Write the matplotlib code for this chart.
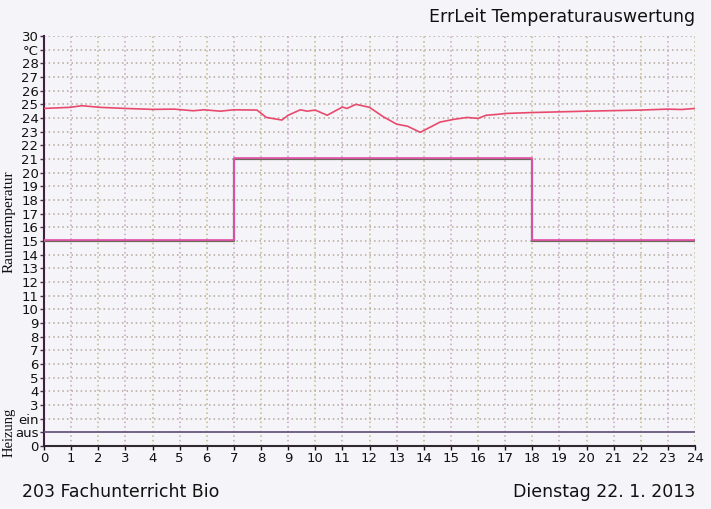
import matplotlib
matplotlib.use("Agg")
import matplotlib.pyplot as plt
import matplotlib.transforms as mtransforms
import numpy as np

# Data
temp_hours = [0, 0.96, 1.4, 2.06, 3.0, 4.0, 4.8, 5.5, 5.9, 6.5, 7.0, 7.85, 8.2, 8.77, 9.0,
              9.45, 9.7, 10.0, 10.44, 11.0, 11.17, 11.5, 12.0, 12.5, 13.0, 13.4, 13.87,
              14.6, 15.1, 15.6, 16.0, 16.3, 16.8, 17.0, 18.0, 20.0, 22.0, 23.0, 23.5, 24.0]
temp_values = [24.7, 24.78, 24.9, 24.78, 24.7, 24.63, 24.65, 24.53, 24.6, 24.5, 24.6, 24.58,
               24.04, 23.85, 24.2, 24.6, 24.5, 24.58, 24.2, 24.8, 24.7, 25.0, 24.78, 24.1,
               23.55, 23.4, 22.95, 23.7, 23.9, 24.04, 23.97, 24.2, 24.28, 24.33, 24.4, 24.5,
               24.58, 24.65, 24.62, 24.7]
setpoint_hours = [0, 7, 7, 18, 18, 24]
setpoint_values = [15, 15, 21, 21, 15, 15]
heating_hours = [0, 24]
heating_values = [1, 1]

x_ticks = list(range(0, 25))
y_ticks = list(range(0, 31))
y_labels = ["0", "aus", "ein"] + [str(i) for i in range(3, 29)] + ["°C", "30"]

bg = "#f5f4f8"
fig = plt.figure(figsize=(7.11, 5.09), dpi=100, facecolor=bg)
ax = fig.add_axes([44/711, 63/509, (695-44)/711, (446-36)/509], facecolor=bg)

ax.set_xlim(0, 24)
ax.set_ylim(0, 30)

# grid
for h in y_ticks[1:]:
    ax.axhline(h, color="#b4a89c", lw=1.1, ls=(0, (1, 2)), zorder=1)
for i, h in enumerate(x_ticks[1:], start=1):
    c = "#c0b888" if i % 2 == 0 else "#c8a0c8"
    ax.axvline(h, color=c, lw=1.1, ls=(0, (1, 2)), zorder=1)

# lines
ax.plot(heating_hours, heating_values, color="#6a5a80", lw=1.3, zorder=3)
ax.plot(setpoint_hours, setpoint_values, color="#6e6a58", lw=1.6, zorder=3)
off = mtransforms.offset_copy(ax.transData, fig=fig, x=0, y=0.7, units="points")
ax.plot(setpoint_hours, setpoint_values, color="#e850b0", lw=1.2, zorder=4, transform=off)
ax.plot(temp_hours, temp_values, color="#e84a6e", lw=1.2, zorder=5)

ax.set_xticks(x_ticks)
ax.set_yticks(y_ticks)
ax.set_yticklabels(y_labels)
ax.tick_params(axis="both", labelsize=9.5, length=3, width=1, pad=1, colors="#111111")
ax.tick_params(axis="y", color="#503050")
for s in ["top", "right"]:
    ax.spines[s].set_visible(False)
ax.spines["left"].set_color("#402040")
ax.spines["left"].set_linewidth(1.5)
ax.spines["bottom"].set_color("#302830")
ax.spines["bottom"].set_linewidth(1.5)

fig.text(9/711, 1 - 222/509, "Raumtemperatur", rotation=90, ha="center", va="center",
         fontsize=11, family="Liberation Serif", color="#111111")
fig.text(9/711, 1 - 432/509, "Heizung", rotation=90, ha="center", va="center",
         fontsize=10.5, family="Liberation Serif", color="#111111")

fig.text(695/711, 1 - 17/509, "ErrLeit Temperaturauswertung", ha="right", va="center",
         fontsize=12.5, color="#111111")
fig.text(22/711, 1 - 492/509, "203 Fachunterricht Bio", ha="left", va="center",
         fontsize=12.5, color="#111111")
fig.text(695/711, 1 - 492/509, "Dienstag 22. 1. 2013", ha="right", va="center",
         fontsize=12.5, color="#111111")

fig.savefig("out.png", dpi=100, facecolor=bg)
